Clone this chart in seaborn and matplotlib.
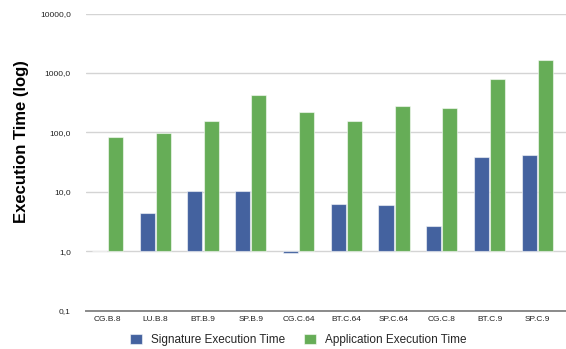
import matplotlib
matplotlib.use("Agg")
import matplotlib.pyplot as plt
from matplotlib.ticker import FixedLocator, FixedFormatter, NullLocator
import pandas as pd
import seaborn as sns

# Benchmarks and measured times (seconds)
benchmarks = ["CG.B.8", "LU.B.8", "BT.B.9", "SP.B.9", "CG.C.64",
              "BT.C.64", "SP.C.64", "CG.C.8", "BT.C.9", "SP.C.9"]
signature_time = [1.0, 4.4, 10.3, 10.4, 0.95, 6.3, 5.9, 2.65, 39.0, 42.0]
application_time = [85, 97, 155, 420, 220, 155, 275, 260, 780, 1680]

series_names = ["Signature Execution Time", "Application Execution Time"]
series_colors = ["#44629f", "#66ad57"]

y_ticks = [0.1, 1, 10, 100, 1000, 10000]
y_tick_labels = ["0,1", "1,0", "10,0", "100,0", "1000,0", "10000,0"]

df = pd.DataFrame({
    "benchmark": benchmarks * 2,
    "time": signature_time + application_time,
    "series": [series_names[0]] * len(benchmarks) + [series_names[1]] * len(benchmarks),
})

sns.set_theme(style="white")
plt.rcParams["font.family"] = ["Liberation Sans", "DejaVu Sans"]

fig = plt.figure(figsize=(5.66, 3.49), dpi=100)
ax = fig.add_axes([0.152, 0.1097, 0.848, 0.8513])

sns.barplot(data=df, x="benchmark", y="time", hue="series",
            palette=series_colors, saturation=1, width=0.68, gap=0.07,
            edgecolor=(1, 1, 1, 0.55), linewidth=0.8,
            ax=ax, legend=True, errorbar=None)

ax.set_yscale("log")
# bars grow from the 1,0 baseline, as in the spreadsheet log chart
for patch in ax.patches:
    h = patch.get_height()
    if patch.get_width() > 0 and h > 0:
        patch.set_y(1.0)
        patch.set_height(h - 1.0)

ax.set_ylim(0.1, 10000)
ax.set_xlim(-0.45, 9.6)
ax.yaxis.set_major_locator(FixedLocator(y_ticks))
ax.yaxis.set_major_formatter(FixedFormatter(y_tick_labels))
ax.yaxis.set_minor_locator(NullLocator())
ax.grid(axis="y", color="#d4d4d4", linewidth=1.0)
ax.set_axisbelow(True)

for side in ["left", "right", "top"]:
    ax.spines[side].set_visible(False)
ax.spines["bottom"].set_color("#8a8a8a")
ax.spines["bottom"].set_linewidth(1.4)

ax.tick_params(axis="y", length=0, pad=11, labelsize=6, labelcolor="#222222")
ax.tick_params(axis="x", length=0, pad=4, labelsize=6, labelcolor="#222222")
ax.set_xlabel("")
ax.set_ylabel("Execution Time (log)", fontsize=12, fontweight="bold",
              color="black", labelpad=0)
ax.yaxis.set_label_coords(-0.118, 0.571)

handles, labels = ax.get_legend_handles_labels()
ax.legend(handles, labels, loc="center", bbox_to_anchor=(0.527, 0.026),
          bbox_transform=fig.transFigure, ncol=2, frameon=False,
          fontsize=8.5, handlelength=1.0, handleheight=1.0,
          handletextpad=0.8, columnspacing=1.6)

fig.savefig("out.png", dpi=100)
